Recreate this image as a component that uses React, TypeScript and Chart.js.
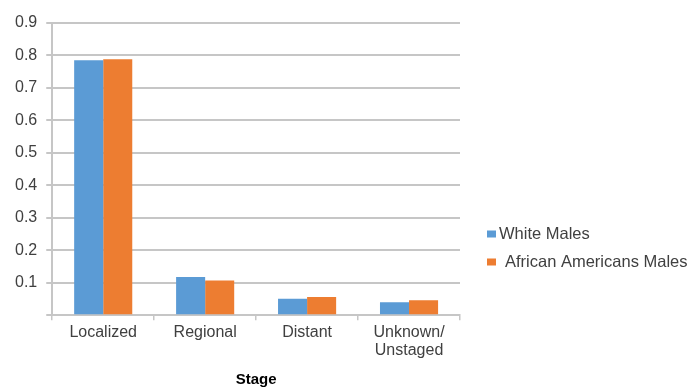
import React, { useEffect, useRef } from "react";
import { Chart, registerables } from "chart.js";

Chart.register(...registerables);

const categories: (string | string[])[] = ["Localized", "Regional", "Distant", ["Unknown/", "Unstaged"]];
const whiteMales = [0.785, 0.118, 0.051, 0.04];
const africanAmericanMales = [0.788, 0.107, 0.056, 0.046];
const seriesLabels = ["White Males", "African Americans Males"];
const seriesColors = ["#5b9bd5", "#ed7d31"];
const xTitle = "Stage";

const FONT = "'Liberation Sans', Arial, Helvetica, sans-serif";
const TEXT = "#404040";
const GRID = "#c6c6c6";

const legendPlugin = {
  id: "sideLegend",
  afterDraw(chart: any) {
    const ctx = chart.ctx;
    const area = chart.chartArea;
    ctx.save();
    ctx.font = `16.5px ${FONT}`;
    ctx.textBaseline = "middle";
    ctx.textAlign = "left";
    chart.data.datasets.forEach((ds: any, i: number) => {
      const y = 234 + i * 28;
      const x = area.right + 27;
      ctx.fillStyle = ds.backgroundColor;
      ctx.fillRect(x, y - 3.5, 9, 7);
      ctx.fillStyle = TEXT;
      ctx.fillText(ds.label, x + 12 + (i === 1 ? 6 : 0), y);
    });
    ctx.restore();
  },
};

export default function App() {
  const ref = useRef<HTMLCanvasElement | null>(null);
  useEffect(() => {
    if (!ref.current) return;
    const chart = new Chart(ref.current, {
      type: "bar",
      data: {
        labels: categories,
        datasets: [
          { label: seriesLabels[0], data: whiteMales, backgroundColor: seriesColors[0], barPercentage: 1, categoryPercentage: 0.57 },
          { label: seriesLabels[1], data: africanAmericanMales, backgroundColor: seriesColors[1], barPercentage: 1, categoryPercentage: 0.57 },
        ],
      },
      options: {
        animation: false,
        responsive: false,
        devicePixelRatio: 1,
        layout: { padding: { left: 6, right: 234, top: 23, bottom: -1 } },
        plugins: { legend: { display: false }, tooltip: { enabled: false } },
        scales: {
          x: {
            grid: { drawOnChartArea: false, drawTicks: true, tickLength: 5, color: GRID, lineWidth: 1.5 },
            border: { color: GRID, width: 2 },
            ticks: { color: TEXT, font: { family: FONT, size: 16, lineHeight: 1.15 }, padding: 3, maxRotation: 0 },
            title: { display: true, text: xTitle, color: "#000", font: { family: FONT, size: 15, weight: "bold" }, padding: { top: 8, bottom: 0 } },
          },
          y: {
            min: 0,
            max: 0.9,
            grid: { color: GRID, lineWidth: 2, tickLength: 6, drawTicks: true },
            border: { color: GRID, width: 2 },
            ticks: {
              stepSize: 0.1,
              color: TEXT,
              font: { family: FONT, size: 16 },
              padding: 9,
              callback: (v: any) => (Math.abs(Number(v)) < 1e-9 ? "" : Number(v).toFixed(1)),
            },
          },
        },
      },
      plugins: [legendPlugin],
    });
    return () => chart.destroy();
  }, []);
  return (
    <div style={{ position: "fixed", left: 0, top: 0, width: 694, height: 388, background: "#fff" }}>
      <canvas ref={ref} width={694} height={388} style={{ width: 694, height: 388 }} />
    </div>
  );
}
